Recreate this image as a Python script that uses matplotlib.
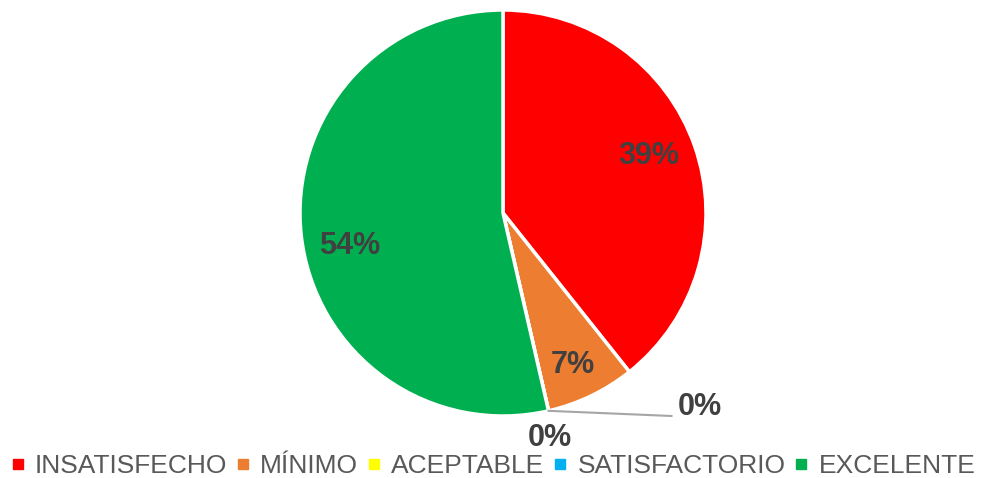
import numpy as np
import matplotlib
matplotlib.use("Agg")
import matplotlib.pyplot as plt
from matplotlib.lines import Line2D

# data
categories = ["INSATISFECHO", "MÍNIMO", "ACEPTABLE", "SATISFACTORIO", "EXCELENTE"]
values = [39.3, 7.1, 0.0, 0.0, 53.6]
colors = ["#FF0000", "#ED7D31", "#FFFF00", "#00B0F0", "#00B050"]
# label spots, in pie-radius units (Excel "best fit" placement)
label_xy = [(0.72, 0.28), (0.345, -0.75), (0.97, -0.956), (0.23, -1.11), (-0.754, -0.163)]

plt.rcParams["font.family"] = ["Liberation Sans", "DejaVu Sans"]

W, H = 985, 478
fig = plt.figure(figsize=(W / 100, H / 100), dpi=100)
cx, cy, r = 503, 478 - 213, 203
ax = fig.add_axes([(cx - r) / W, (cy - r) / H, 2 * r / W, 2 * r / H])

wedges, _ = ax.pie(values, colors=colors, startangle=90, counterclock=False,
                   radius=1.0, wedgeprops=dict(edgecolor="white", linewidth=2.5))
ax.set_xlim(-1, 1)
ax.set_ylim(-1, 1)
ax.set_aspect("equal")
ax.axis("off")

lbl = dict(fontsize=22, fontweight="bold", color="#404040",
           ha="center", va="center", clip_on=False)
for v, (lx, ly) in zip(values, label_xy):
    ax.text(lx, ly, f"{v:.0f}%", **lbl)

# leader line for the ACEPTABLE 0% label
edge = wedges[2]
ex, ey = np.cos(np.deg2rad(edge.theta1)), np.sin(np.deg2rad(edge.theta1))
ax.plot([ex, 0.83], [ey, -1.0], color="#A6A6A6", lw=1.5, clip_on=False)

handles = [Line2D([], [], marker="s", ls="", color=c, markersize=6.5) for c in colors]
fig.legend(handles, categories, loc="center", bbox_to_anchor=(0.5, 0.025),
           ncol=5, frameon=False, fontsize=19, handlelength=0.6,
           handletextpad=0.35, columnspacing=0.3, labelcolor="#595959",
           borderpad=0.1)

fig.savefig("out.png", dpi=100)
